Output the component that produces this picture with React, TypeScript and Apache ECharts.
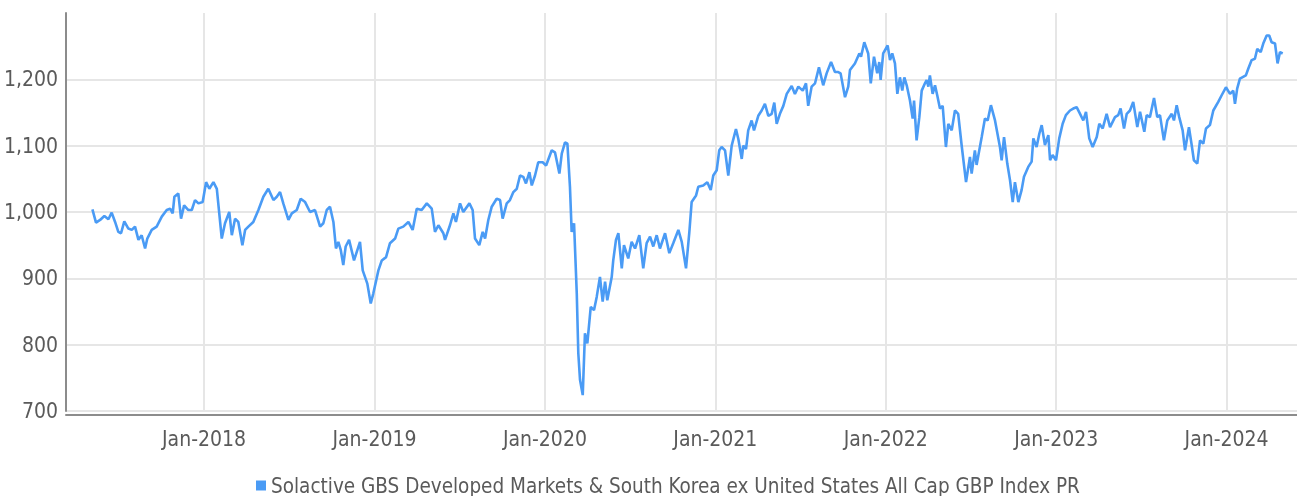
import React, { useEffect, useRef } from "react";
import * as echarts from "echarts";

const seriesName =
  "Solactive GBS Developed Markets & South Korea ex United States All Cap GBP Index PR";

// Dates stored as decimal years
const dates: number[] = [
  2017.345, 2017.366, 2017.39, 2017.415, 2017.439, 2017.458, 2017.478, 2017.497, 2017.513, 2017.532,
  2017.556, 2017.576, 2017.595, 2017.615, 2017.634, 2017.654, 2017.667, 2017.693, 2017.722, 2017.752,
  2017.781, 2017.801, 2017.816, 2017.826, 2017.849, 2017.865, 2017.883, 2017.908, 2017.928, 2017.947,
  2017.967, 2017.992,
  2018.012, 2018.031, 2018.055, 2018.075, 2018.104, 2018.123, 2018.148, 2018.163, 2018.182, 2018.201,
  2018.225, 2018.241, 2018.26, 2018.289, 2018.319, 2018.348, 2018.377, 2018.407, 2018.427, 2018.446,
  2018.465, 2018.495, 2018.515, 2018.544, 2018.567, 2018.593, 2018.622, 2018.651, 2018.681, 2018.7,
  2018.72, 2018.739, 2018.759, 2018.774, 2018.788, 2018.802, 2018.817, 2018.831, 2018.851, 2018.88,
  2018.915, 2018.931, 2018.958, 2018.978, 2018.993,
  2019.023, 2019.043, 2019.068, 2019.091, 2019.121, 2019.14, 2019.169, 2019.199, 2019.224, 2019.248,
  2019.277, 2019.307, 2019.336, 2019.355, 2019.375, 2019.404, 2019.414, 2019.443, 2019.463, 2019.478,
  2019.502, 2019.521, 2019.557, 2019.576, 2019.59, 2019.615, 2019.635, 2019.649, 2019.668, 2019.688,
  2019.717, 2019.737, 2019.752, 2019.776, 2019.795, 2019.815, 2019.835, 2019.854, 2019.873, 2019.889,
  2019.909, 2019.923, 2019.942, 2019.961, 2019.987,
  2020.007, 2020.04, 2020.059, 2020.085, 2020.099, 2020.118, 2020.132, 2020.147, 2020.157, 2020.171,
  2020.187, 2020.196, 2020.206, 2020.222, 2020.235, 2020.249, 2020.269, 2020.288, 2020.304, 2020.323,
  2020.339, 2020.353, 2020.366, 2020.392, 2020.401, 2020.417, 2020.431, 2020.451, 2020.464, 2020.489,
  2020.509, 2020.529, 2020.554, 2020.577, 2020.597, 2020.617, 2020.636, 2020.656, 2020.675, 2020.705,
  2020.73, 2020.753, 2020.783, 2020.803, 2020.828, 2020.847, 2020.861, 2020.887, 2020.9, 2020.929,
  2020.953, 2020.973, 2020.988,
  2021.008, 2021.023, 2021.037, 2021.057, 2021.076, 2021.096, 2021.121, 2021.135, 2021.155, 2021.164,
  2021.18, 2021.193, 2021.213, 2021.227, 2021.252, 2021.272, 2021.291, 2021.311, 2021.331, 2021.346,
  2021.36, 2021.379, 2021.399, 2021.419, 2021.448, 2021.467, 2021.487, 2021.513, 2021.532, 2021.545,
  2021.565, 2021.585, 2021.608, 2021.633, 2021.653, 2021.679, 2021.702, 2021.721, 2021.735, 2021.761,
  2021.78, 2021.79, 2021.819, 2021.845, 2021.855, 2021.874, 2021.897, 2021.912, 2021.931, 2021.95,
  2021.962, 2021.97, 2021.985,
  2022.011, 2022.025, 2022.038, 2022.054, 2022.068, 2022.083, 2022.097, 2022.109, 2022.123, 2022.142,
  2022.158, 2022.166, 2022.181, 2022.197, 2022.211, 2022.23, 2022.24, 2022.25, 2022.259, 2022.275,
  2022.289, 2022.302, 2022.318, 2022.334, 2022.353, 2022.367, 2022.387, 2022.406, 2022.425, 2022.445,
  2022.471, 2022.494, 2022.504, 2022.523, 2022.533, 2022.563, 2022.582, 2022.598, 2022.617, 2022.641,
  2022.67, 2022.68, 2022.694, 2022.713, 2022.729, 2022.745, 2022.758, 2022.778, 2022.797, 2022.811,
  2022.836, 2022.856, 2022.866, 2022.885, 2022.901, 2022.915, 2022.934, 2022.954, 2022.964, 2022.979,
  2022.999,
  2023.018, 2023.038, 2023.057, 2023.081, 2023.1, 2023.12, 2023.14, 2023.159, 2023.175, 2023.194,
  2023.214, 2023.238, 2023.253, 2023.273, 2023.296, 2023.316, 2023.345, 2023.364, 2023.378, 2023.398,
  2023.414, 2023.433, 2023.452, 2023.476, 2023.492, 2023.517, 2023.531, 2023.55, 2023.574, 2023.593,
  2023.609, 2023.632, 2023.652, 2023.678, 2023.691, 2023.707, 2023.722, 2023.742, 2023.756, 2023.779,
  2023.795, 2023.808, 2023.828, 2023.844, 2023.863, 2023.879, 2023.902, 2023.922, 2023.951, 2023.971,
  2023.996,
  2024.02, 2024.039, 2024.049, 2024.062, 2024.078, 2024.113, 2024.127, 2024.147, 2024.166, 2024.18,
  2024.2, 2024.215, 2024.235, 2024.25, 2024.264, 2024.284, 2024.299, 2024.313, 2024.329,
];

const values: number[] = [
  1004, 984, 988, 994, 989, 999, 985, 970, 968, 986,
  975, 973, 978, 958, 965, 945, 960, 973, 978, 993,
  1003, 1005, 998, 1023, 1028, 990, 1010, 1003, 1003, 1018,
  1013, 1015,
  1045, 1035, 1045, 1035, 960, 983, 1000, 965, 990, 985,
  950, 973, 978, 985, 1003, 1023, 1035, 1018, 1023, 1030,
  1013, 988, 998, 1003, 1020, 1015, 1000, 1003, 978, 983,
  1003, 1008, 985, 945, 955, 943, 920, 948, 958, 927,
  955, 912, 892, 862, 877,
  912, 927, 932, 953, 960, 975, 978, 985, 973, 1005,
  1003, 1013, 1005, 970, 980, 968, 958, 980, 998, 985,
  1013, 1000, 1013, 1003, 960, 950, 970, 960, 988, 1008,
  1020, 1018, 990, 1013, 1018, 1030, 1035, 1055, 1053, 1043,
  1060, 1040, 1055, 1075, 1075,
  1070, 1093, 1090, 1058, 1088, 1105, 1103, 1038, 970, 983,
  877, 787, 747, 724, 817, 802, 857, 852, 872, 902,
  865, 895, 867, 902, 927, 958, 968, 915, 950, 930,
  955, 945, 965, 915, 953, 963, 948, 965, 945, 968,
  938, 953, 973, 955, 915, 968, 1015, 1025, 1038, 1040,
  1045, 1033, 1055,
  1063, 1093, 1098, 1093, 1055, 1100, 1125, 1110, 1080, 1100,
  1095, 1123, 1138, 1123, 1145, 1153, 1163, 1145, 1148, 1165,
  1133, 1148, 1160, 1178, 1190, 1178, 1189, 1183, 1194, 1160,
  1189, 1194, 1218, 1191, 1209, 1226, 1211, 1211, 1209, 1173,
  1189, 1214, 1224, 1239, 1234, 1256, 1239, 1194, 1234, 1209,
  1226, 1199, 1239,
  1251, 1229, 1239, 1224, 1178, 1203, 1183, 1203, 1191, 1168,
  1141, 1168, 1108, 1143, 1183, 1194, 1199, 1189, 1206, 1178,
  1191, 1176, 1156, 1160, 1098, 1133, 1123, 1153, 1148, 1101,
  1045, 1083, 1058, 1093, 1071, 1113, 1141, 1138, 1161, 1138,
  1098, 1078, 1113, 1073, 1048, 1015, 1045, 1015, 1033, 1053,
  1068, 1076, 1111, 1098, 1118, 1131, 1101, 1116, 1078, 1086,
  1078,
  1111, 1133, 1146, 1153, 1156, 1158, 1148, 1138, 1151, 1111,
  1098, 1113, 1133, 1126, 1148, 1128, 1143, 1146, 1156, 1126,
  1148, 1153, 1166, 1128, 1151, 1121, 1146, 1143, 1172, 1143,
  1146, 1108, 1138, 1148, 1138, 1161, 1143, 1123, 1093, 1128,
  1101, 1078, 1073, 1108, 1103, 1126, 1131, 1153, 1166, 1176,
  1188,
  1178, 1183, 1163, 1186, 1201, 1206, 1216, 1229, 1231, 1246,
  1241, 1254, 1266, 1266, 1256, 1254, 1224, 1241, 1239,
];

const yearTicks: number[] = [2018, 2019, 2020, 2021, 2022, 2023, 2024];
const yMin = 700;
const yMax = 1300;
const yStep = 100;

const FONT = "'Liberation Sans Narrow', 'DejaVu Sans Condensed', 'Roboto', sans-serif";
const TEXT = "#5a5a5a";
const LINE = "#4a9bf5";
const GRID = "#e6e6e6";
const AXIS = "#8c8c8c";

export default function App() {
  const ref = useRef<HTMLDivElement>(null);
  useEffect(() => {
    if (!ref.current) return;
    const chart = echarts.init(ref.current, undefined, { renderer: "svg" });
    const data = dates.map((d, i) => [d, values[i]]);
    chart.setOption({
      animation: false,
      grid: { left: 66, right: 0, top: 13, bottom: 85, containLabel: false },
      legend: {
        data: [seriesName],
        left: 251,
        top: 470,
        icon: "rect",
        itemWidth: 10,
        itemHeight: 10,
        itemGap: 10,
        textStyle: { color: TEXT, fontSize: 20.5, fontFamily: FONT },
      },
      xAxis: {
        type: "value",
        min: 2017.19,
        max: 2024.413,
        offset: 4,
        axisLine: { show: true, lineStyle: { color: AXIS, width: 2 } },
        axisTick: { show: false, customValues: yearTicks },
        axisLabel: {
          customValues: yearTicks,
          formatter: (v: number) => "Jan-" + Math.round(v),
          color: TEXT,
          fontSize: 21,
          fontFamily: FONT,
          margin: 13,
        },
        splitLine: { show: true, lineStyle: { color: GRID, width: 2 } },
      },
      yAxis: {
        type: "value",
        min: yMin,
        max: yMax,
        interval: yStep,
        axisLine: { show: true, lineStyle: { color: AXIS, width: 2 } },
        axisTick: { show: false },
        axisLabel: {
          showMaxLabel: false,
          formatter: (v: number) => (v >= yMax ? "" : v.toLocaleString("en-US")),
          color: TEXT,
          fontSize: 21,
          fontFamily: FONT,
          margin: 8,
        },
        splitLine: {
          show: true,
          showMaxLine: false,
          lineStyle: {
            color: [GRID, GRID, GRID, GRID, GRID, GRID, "rgba(0,0,0,0)"],
            width: 2,
          },
        },
      },
      series: [
        {
          name: seriesName,
          type: "line",
          data,
          showSymbol: false,
          symbol: "none",
          lineStyle: { color: LINE, width: 2.6 },
          itemStyle: { color: LINE },
        },
      ],
    });
    return () => chart.dispose();
  }, []);
  return (
    <div
      ref={ref}
      style={{ position: "fixed", left: 0, top: 0, width: 1297, height: 496 }}
    />
  );
}
